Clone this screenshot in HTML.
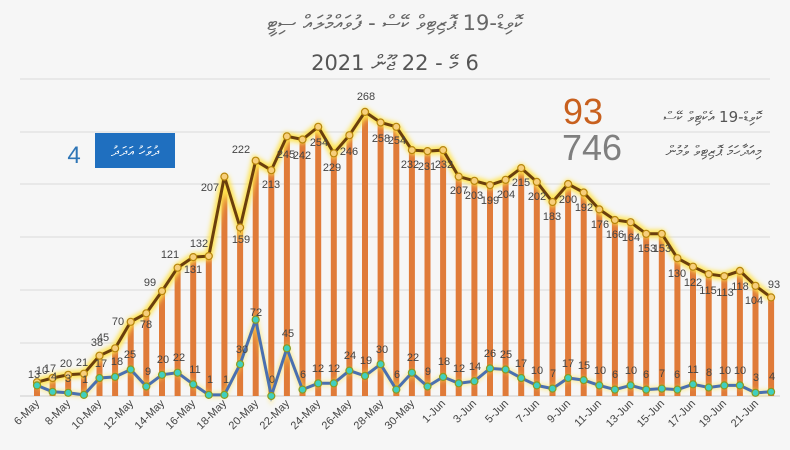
<!DOCTYPE html>
<html><head><meta charset="utf-8"><style>
body{margin:0;background:#f6f6f6;}
svg{display:block;font-family:"Liberation Sans",sans-serif;}
</style></head><body>
<svg width="790" height="450" viewBox="0 0 790 450">
<defs>
<filter id="g" x="-5%" y="-20%" width="110%" height="140%"><feGaussianBlur stdDeviation="2.5"/></filter>
</defs>
<rect width="790" height="450" fill="#f6f6f6"/>
<text x="395" y="30" text-anchor="middle" font-size="21" fill="#666" font-family="'DejaVu Sans','Noto Sans',sans-serif">ކޮވިޑް-19 ޕޮޒިޓިވް ކޭސް - ފުވައްމުލައް ސިޓީ</text>
<text x="395" y="70" text-anchor="middle" direction="rtl" font-size="21" fill="#555" font-family="'DejaVu Sans','Noto Sans',sans-serif">6 މޭ - 22 ޖޫން 2021</text>
<g stroke="#dadada" stroke-width="1">
<line x1="20" y1="79" x2="770" y2="79"/><line x1="20" y1="132" x2="770" y2="132"/><line x1="20" y1="184" x2="770" y2="184"/><line x1="20" y1="237" x2="770" y2="237"/><line x1="20" y1="290" x2="770" y2="290"/><line x1="20" y1="343" x2="770" y2="343"/>
<line x1="20" y1="396" x2="780" y2="396" stroke="#ccc"/>
</g>
<text x="583" y="124" text-anchor="middle" font-size="36" fill="#c8601e">93</text>
<text x="592" y="160" text-anchor="middle" font-size="36" fill="#7f7f7f">746</text>
<text x="762" y="122" text-anchor="end" font-size="15" fill="#555" font-family="'DejaVu Sans',sans-serif">ކޮވިޑް-19 އެކްޓިވް ކޭސް</text>
<text x="762" y="156" text-anchor="end" font-size="15" fill="#555" font-family="'DejaVu Sans',sans-serif">މިއަދާހަމަ ޕޮޒިޓިވް ވުމުން</text>
<text x="74" y="163" text-anchor="middle" font-size="24" fill="#2e75b6">4</text>
<rect x="95" y="133" width="80" height="35" fill="#1f6fbf"/>
<text x="135" y="156" text-anchor="middle" font-size="14" fill="#fff" font-family="'DejaVu Sans',sans-serif">ދުވަހު އަދަދު</text>
<path stroke="#e07b39" stroke-width="6" fill="none" d="M37 382.2V396M52.6 378V396M68.2 374.8V396M83.9 373.7V396M99.5 355.7V396M115.1 348.3V396M130.7 321.8V396M146.3 313.3V396M162 291.1V396M177.6 267.7V396M193.2 257.1V396M208.8 256.1V396M224.4 176.6V396M240.1 227.5V396M255.7 160.7V396M271.3 170.2V396M286.9 136.3V396M302.5 139.5V396M318.2 126.8V396M333.8 153.3V396M349.4 135.2V396M365 111.9V396M380.6 122.5V396M396.3 126.8V396M411.9 150.1V396M427.5 151.1V396M443.1 150.1V396M458.7 176.6V396M474.4 180.8V396M490 185.1V396M505.6 179.8V396M521.2 168.1V396M536.8 181.9V396M552.5 202V396M568.1 184V396M583.7 192.5V396M599.3 209.4V396M614.9 220V396M630.6 222.2V396M646.2 233.8V396M661.8 233.8V396M677.4 258.2V396M693 266.7V396M708.7 274.1V396M724.3 276.2V396M739.9 270.9V396M755.5 285.8V396M771.1 297.4V396"/>
<g id="bl">
<polyline fill="none" stroke="#ffe34d" stroke-width="8" filter="url(#g)" points="37,382.2 52.6,378 68.2,374.8 83.9,373.7 99.5,355.7 115.1,348.3 130.7,321.8 146.3,313.3 162,291.1 177.6,267.7 193.2,257.1 208.8,256.1 224.4,176.6 240.1,227.5 255.7,160.7 271.3,170.2 286.9,136.3 302.5,139.5 318.2,126.8 333.8,153.3 349.4,135.2 365,111.9 380.6,122.5 396.3,126.8 411.9,150.1 427.5,151.1 443.1,150.1 458.7,176.6 474.4,180.8 490,185.1 505.6,179.8 521.2,168.1 536.8,181.9 552.5,202 568.1,184 583.7,192.5 599.3,209.4 614.9,220 630.6,222.2 646.2,233.8 661.8,233.8 677.4,258.2 693,266.7 708.7,274.1 724.3,276.2 739.9,270.9 755.5,285.8 771.1,297.4"/>
<polyline fill="none" stroke="#6b3f0c" stroke-width="3" points="37,382.2 52.6,378 68.2,374.8 83.9,373.7 99.5,355.7 115.1,348.3 130.7,321.8 146.3,313.3 162,291.1 177.6,267.7 193.2,257.1 208.8,256.1 224.4,176.6 240.1,227.5 255.7,160.7 271.3,170.2 286.9,136.3 302.5,139.5 318.2,126.8 333.8,153.3 349.4,135.2 365,111.9 380.6,122.5 396.3,126.8 411.9,150.1 427.5,151.1 443.1,150.1 458.7,176.6 474.4,180.8 490,185.1 505.6,179.8 521.2,168.1 536.8,181.9 552.5,202 568.1,184 583.7,192.5 599.3,209.4 614.9,220 630.6,222.2 646.2,233.8 661.8,233.8 677.4,258.2 693,266.7 708.7,274.1 724.3,276.2 739.9,270.9 755.5,285.8 771.1,297.4"/>
<polyline fill="none" stroke="#ffe34d" stroke-width="5" opacity="0.6" filter="url(#g)" points="37,385.4 52.6,391.8 68.2,392.8 83.9,394.9 99.5,378 115.1,376.9 130.7,369.5 146.3,386.5 162,374.8 177.6,372.7 193.2,384.3 208.8,394.9 224.4,394.9 240.1,364.2 255.7,319.7 271.3,396 286.9,348.3 302.5,389.6 318.2,383.3 333.8,383.3 349.4,370.6 365,375.9 380.6,364.2 396.3,389.6 411.9,372.7 427.5,386.5 443.1,376.9 458.7,383.3 474.4,381.2 490,368.4 505.6,369.5 521.2,378 536.8,385.4 552.5,388.6 568.1,378 583.7,380.1 599.3,385.4 614.9,389.6 630.6,385.4 646.2,389.6 661.8,388.6 677.4,389.6 693,384.3 708.7,387.5 724.3,385.4 739.9,385.4 755.5,392.8 771.1,391.8"/>
<polyline fill="none" stroke="#4a70b0" stroke-width="3" points="37,385.4 52.6,391.8 68.2,392.8 83.9,394.9 99.5,378 115.1,376.9 130.7,369.5 146.3,386.5 162,374.8 177.6,372.7 193.2,384.3 208.8,394.9 224.4,394.9 240.1,364.2 255.7,319.7 271.3,396 286.9,348.3 302.5,389.6 318.2,383.3 333.8,383.3 349.4,370.6 365,375.9 380.6,364.2 396.3,389.6 411.9,372.7 427.5,386.5 443.1,376.9 458.7,383.3 474.4,381.2 490,368.4 505.6,369.5 521.2,378 536.8,385.4 552.5,388.6 568.1,378 583.7,380.1 599.3,385.4 614.9,389.6 630.6,385.4 646.2,389.6 661.8,388.6 677.4,389.6 693,384.3 708.7,387.5 724.3,385.4 739.9,385.4 755.5,392.8 771.1,391.8"/>
</g>
<g fill="#f7cf7a" stroke="#b8860b" stroke-width="1.2">
<circle cx="37" cy="382.2" r="3.5"/><circle cx="52.6" cy="378" r="3.5"/><circle cx="68.2" cy="374.8" r="3.5"/><circle cx="83.9" cy="373.7" r="3.5"/><circle cx="99.5" cy="355.7" r="3.5"/><circle cx="115.1" cy="348.3" r="3.5"/><circle cx="130.7" cy="321.8" r="3.5"/><circle cx="146.3" cy="313.3" r="3.5"/><circle cx="162" cy="291.1" r="3.5"/><circle cx="177.6" cy="267.7" r="3.5"/><circle cx="193.2" cy="257.1" r="3.5"/><circle cx="208.8" cy="256.1" r="3.5"/><circle cx="224.4" cy="176.6" r="3.5"/><circle cx="240.1" cy="227.5" r="3.5"/><circle cx="255.7" cy="160.7" r="3.5"/><circle cx="271.3" cy="170.2" r="3.5"/><circle cx="286.9" cy="136.3" r="3.5"/><circle cx="302.5" cy="139.5" r="3.5"/><circle cx="318.2" cy="126.8" r="3.5"/><circle cx="333.8" cy="153.3" r="3.5"/><circle cx="349.4" cy="135.2" r="3.5"/><circle cx="365" cy="111.9" r="3.5"/><circle cx="380.6" cy="122.5" r="3.5"/><circle cx="396.3" cy="126.8" r="3.5"/><circle cx="411.9" cy="150.1" r="3.5"/><circle cx="427.5" cy="151.1" r="3.5"/><circle cx="443.1" cy="150.1" r="3.5"/><circle cx="458.7" cy="176.6" r="3.5"/><circle cx="474.4" cy="180.8" r="3.5"/><circle cx="490" cy="185.1" r="3.5"/><circle cx="505.6" cy="179.8" r="3.5"/><circle cx="521.2" cy="168.1" r="3.5"/><circle cx="536.8" cy="181.9" r="3.5"/><circle cx="552.5" cy="202" r="3.5"/><circle cx="568.1" cy="184" r="3.5"/><circle cx="583.7" cy="192.5" r="3.5"/><circle cx="599.3" cy="209.4" r="3.5"/><circle cx="614.9" cy="220" r="3.5"/><circle cx="630.6" cy="222.2" r="3.5"/><circle cx="646.2" cy="233.8" r="3.5"/><circle cx="661.8" cy="233.8" r="3.5"/><circle cx="677.4" cy="258.2" r="3.5"/><circle cx="693" cy="266.7" r="3.5"/><circle cx="708.7" cy="274.1" r="3.5"/><circle cx="724.3" cy="276.2" r="3.5"/><circle cx="739.9" cy="270.9" r="3.5"/><circle cx="755.5" cy="285.8" r="3.5"/><circle cx="771.1" cy="297.4" r="3.5"/>
</g>
<g fill="#3fd0c0" stroke="#8a9a20" stroke-width="1.2">
<circle cx="37" cy="385.4" r="3.5"/><circle cx="52.6" cy="391.8" r="3.5"/><circle cx="68.2" cy="392.8" r="3.5"/><circle cx="83.9" cy="394.9" r="3.5"/><circle cx="99.5" cy="378" r="3.5"/><circle cx="115.1" cy="376.9" r="3.5"/><circle cx="130.7" cy="369.5" r="3.5"/><circle cx="146.3" cy="386.5" r="3.5"/><circle cx="162" cy="374.8" r="3.5"/><circle cx="177.6" cy="372.7" r="3.5"/><circle cx="193.2" cy="384.3" r="3.5"/><circle cx="208.8" cy="394.9" r="3.5"/><circle cx="224.4" cy="394.9" r="3.5"/><circle cx="240.1" cy="364.2" r="3.5"/><circle cx="255.7" cy="319.7" r="3.5"/><circle cx="271.3" cy="396" r="3.5"/><circle cx="286.9" cy="348.3" r="3.5"/><circle cx="302.5" cy="389.6" r="3.5"/><circle cx="318.2" cy="383.3" r="3.5"/><circle cx="333.8" cy="383.3" r="3.5"/><circle cx="349.4" cy="370.6" r="3.5"/><circle cx="365" cy="375.9" r="3.5"/><circle cx="380.6" cy="364.2" r="3.5"/><circle cx="396.3" cy="389.6" r="3.5"/><circle cx="411.9" cy="372.7" r="3.5"/><circle cx="427.5" cy="386.5" r="3.5"/><circle cx="443.1" cy="376.9" r="3.5"/><circle cx="458.7" cy="383.3" r="3.5"/><circle cx="474.4" cy="381.2" r="3.5"/><circle cx="490" cy="368.4" r="3.5"/><circle cx="505.6" cy="369.5" r="3.5"/><circle cx="521.2" cy="378" r="3.5"/><circle cx="536.8" cy="385.4" r="3.5"/><circle cx="552.5" cy="388.6" r="3.5"/><circle cx="568.1" cy="378" r="3.5"/><circle cx="583.7" cy="380.1" r="3.5"/><circle cx="599.3" cy="385.4" r="3.5"/><circle cx="614.9" cy="389.6" r="3.5"/><circle cx="630.6" cy="385.4" r="3.5"/><circle cx="646.2" cy="389.6" r="3.5"/><circle cx="661.8" cy="388.6" r="3.5"/><circle cx="677.4" cy="389.6" r="3.5"/><circle cx="693" cy="384.3" r="3.5"/><circle cx="708.7" cy="387.5" r="3.5"/><circle cx="724.3" cy="385.4" r="3.5"/><circle cx="739.9" cy="385.4" r="3.5"/><circle cx="755.5" cy="392.8" r="3.5"/><circle cx="771.1" cy="391.8" r="3.5"/>
</g>
<g font-size="11" fill="#444" text-anchor="middle">
<text x="34" y="378">13</text><text x="50" y="372">17</text><text x="66" y="367">20</text><text x="82" y="366">21</text><text x="97" y="346">38</text><text x="103" y="341">45</text><text x="118" y="325">70</text><text x="146" y="328">78</text><text x="150" y="286">99</text><text x="170" y="258">121</text><text x="193" y="273">131</text><text x="199" y="247">132</text><text x="210" y="191">207</text><text x="241" y="243">159</text><text x="241" y="153">222</text><text x="271" y="188">213</text><text x="286" y="158">245</text><text x="302" y="159">242</text><text x="319" y="146">254</text><text x="332" y="171">229</text><text x="349" y="155">246</text><text x="366" y="100">268</text><text x="381" y="142">258</text><text x="397" y="144">254</text><text x="410" y="168">232</text><text x="427" y="170">231</text><text x="444" y="168">232</text><text x="459" y="194">207</text><text x="474" y="199">203</text><text x="490" y="204">199</text><text x="506" y="198">204</text><text x="521" y="186">215</text><text x="537" y="200">202</text><text x="552" y="220">183</text><text x="568" y="203">200</text><text x="584" y="211">192</text><text x="600" y="228">176</text><text x="615" y="238">166</text><text x="631" y="241">164</text><text x="647" y="252">153</text><text x="662" y="252">153</text><text x="677" y="277">130</text><text x="693" y="286">122</text><text x="708" y="294">115</text><text x="725" y="296">113</text><text x="740" y="290">118</text><text x="754" y="304">104</text><text x="774" y="288">93</text>
<text x="42" y="374">10</text><text x="54" y="380">4</text><text x="68" y="382">3</text><text x="85" y="383">1</text><text x="101" y="367">17</text><text x="117" y="365">18</text><text x="130" y="358">25</text><text x="148" y="375">9</text><text x="163" y="363">20</text><text x="179" y="361">22</text><text x="195" y="373">11</text><text x="210" y="383">1</text><text x="226" y="383">1</text><text x="242" y="353">30</text><text x="256" y="316">72</text><text x="272" y="383">0</text><text x="288" y="337">45</text><text x="303" y="378">6</text><text x="318" y="372">12</text><text x="334" y="372">12</text><text x="350" y="359">24</text><text x="366" y="364">19</text><text x="382" y="353">30</text><text x="397" y="378">6</text><text x="413" y="361">22</text><text x="428" y="375">9</text><text x="444" y="365">18</text><text x="459" y="372">12</text><text x="475" y="370">14</text><text x="490" y="357">26</text><text x="506" y="358">25</text><text x="521" y="367">17</text><text x="537" y="374">10</text><text x="553" y="377">7</text><text x="568" y="367">17</text><text x="584" y="369">15</text><text x="600" y="374">10</text><text x="615" y="378">6</text><text x="631" y="374">10</text><text x="646" y="378">6</text><text x="662" y="377">7</text><text x="677" y="378">6</text><text x="693" y="373">11</text><text x="709" y="376">8</text><text x="725" y="374">10</text><text x="740" y="374">10</text><text x="756" y="381">3</text><text x="772" y="380">4</text>
</g>
<g font-size="11" fill="#444" text-anchor="end">
<text transform="translate(40,404) rotate(-45)">6-May</text><text transform="translate(71,404) rotate(-45)">8-May</text><text transform="translate(102,404) rotate(-45)">10-May</text><text transform="translate(134,404) rotate(-45)">12-May</text><text transform="translate(165,404) rotate(-45)">14-May</text><text transform="translate(196,404) rotate(-45)">16-May</text><text transform="translate(227,404) rotate(-45)">18-May</text><text transform="translate(259,404) rotate(-45)">20-May</text><text transform="translate(290,404) rotate(-45)">22-May</text><text transform="translate(321,404) rotate(-45)">24-May</text><text transform="translate(352,404) rotate(-45)">26-May</text><text transform="translate(384,404) rotate(-45)">28-May</text><text transform="translate(415,404) rotate(-45)">30-May</text><text transform="translate(446,404) rotate(-45)">1-Jun</text><text transform="translate(477,404) rotate(-45)">3-Jun</text><text transform="translate(509,404) rotate(-45)">5-Jun</text><text transform="translate(540,404) rotate(-45)">7-Jun</text><text transform="translate(571,404) rotate(-45)">9-Jun</text><text transform="translate(602,404) rotate(-45)">11-Jun</text><text transform="translate(634,404) rotate(-45)">13-Jun</text><text transform="translate(665,404) rotate(-45)">15-Jun</text><text transform="translate(696,404) rotate(-45)">17-Jun</text><text transform="translate(727,404) rotate(-45)">19-Jun</text><text transform="translate(759,404) rotate(-45)">21-Jun</text>
</g>
</svg>
</body></html>
